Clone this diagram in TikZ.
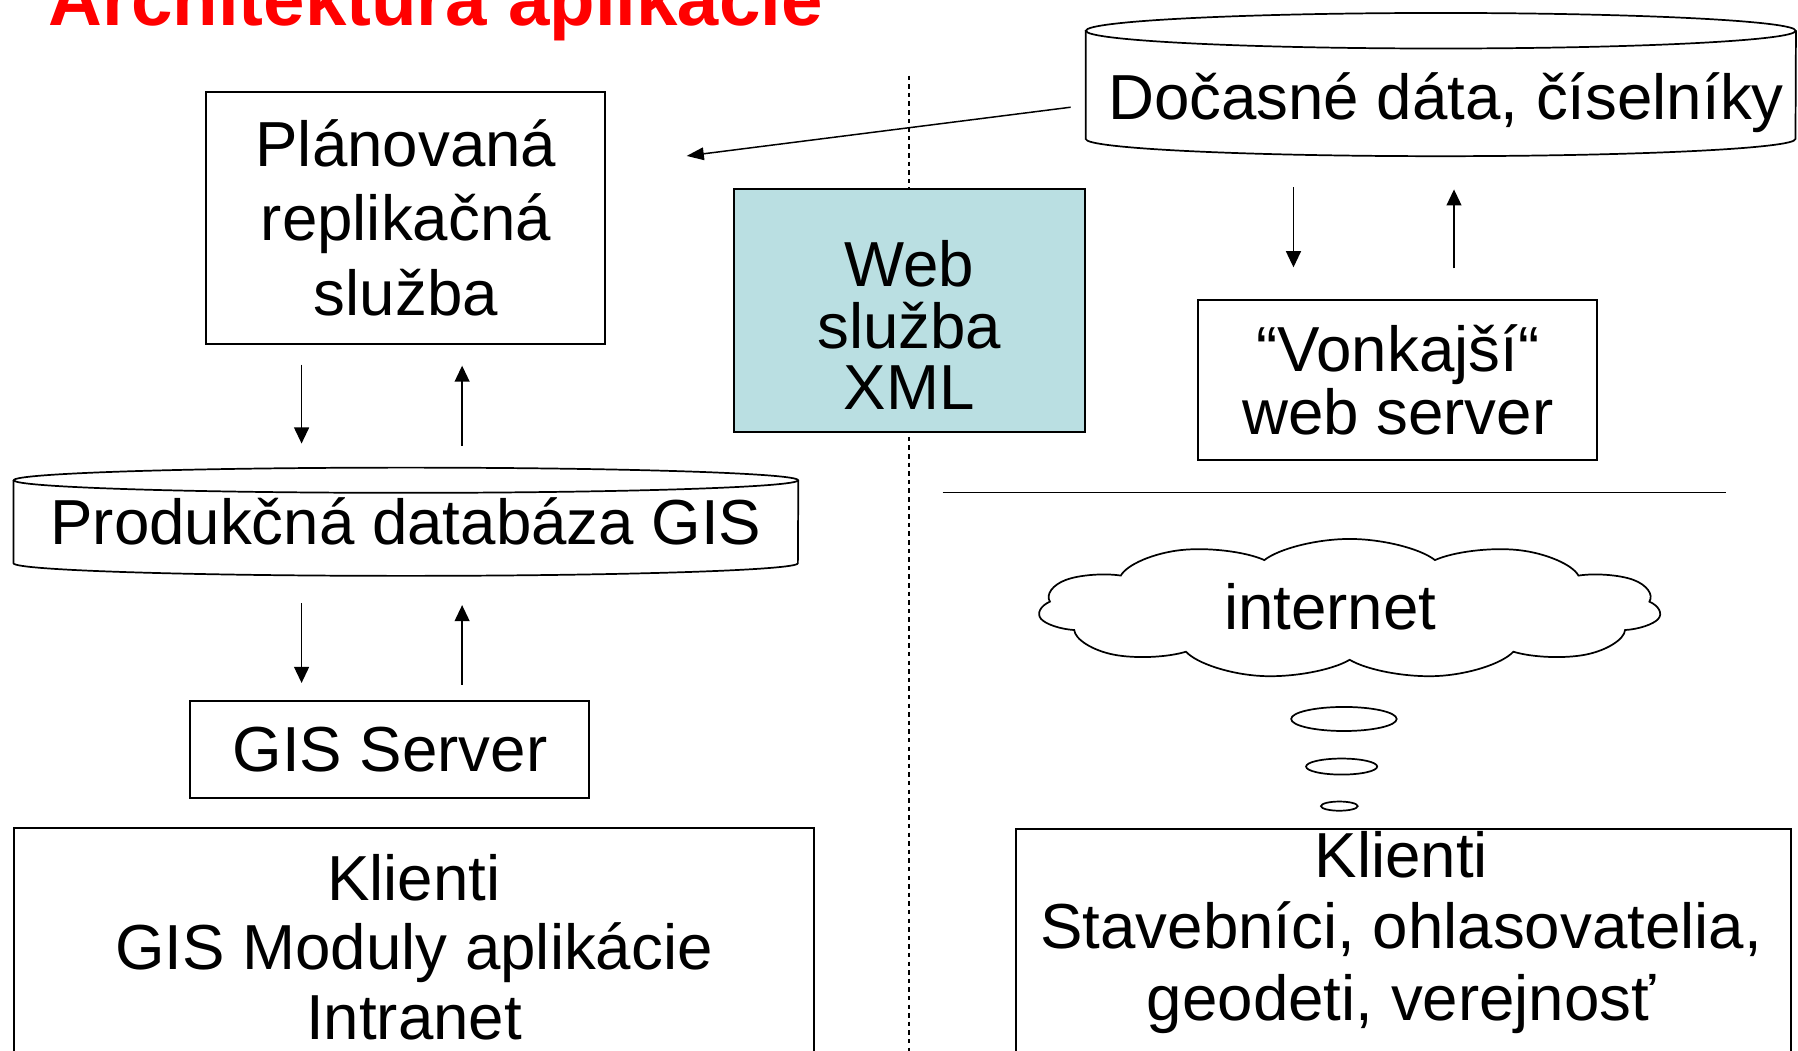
\documentclass[tikz,border=0pt]{standalone}
\usepackage{fontspec}
\setmainfont{Liberation Sans}
\usetikzlibrary{arrows.meta, shapes.geometric, shapes.symbols}
\definecolor{webblue}{RGB}{186,223,226}

\begin{document}
\begin{tikzpicture}[x=1pt, y=-1pt,
    box/.style={draw, line width=1.8pt, inner sep=0pt},
    txt/.style={font=\fontsize{55.5}{65}\selectfont, align=center, inner sep=0pt},
    db/.style={line width=1.5pt},
    flow/.style={-{Triangle[length=14pt, width=13pt]}, line width=1.3pt},
    bubble/.style={draw, ellipse, line width=1.5pt, inner sep=0pt}]
  \useasboundingbox (0,0) rectangle (1568,916);

  \node[anchor=base west, inner sep=0pt, text=red,
        font=\bfseries\fontsize{65}{70}\selectfont] (title) at (42,22.5) {Architektúra aplikácie};

  % divider
  \coordinate (divtop) at (793,66);
  \coordinate (divbot) at (793,920);
  \draw[line width=1.5pt, dash pattern=on 4pt off 3.5pt] (divtop) -- (divbot);

  % left side
  \node[box, txt, minimum width=348pt, minimum height=220pt] (plan) at (354,190) {Plánovaná\\replikačná\\služba};
  \node[txt, minimum width=684pt, minimum height=72pt] (proddb) at (354,455) {Produkčná databáza GIS};
  \draw[db] (proddb.north) ellipse [x radius=342pt, y radius=11pt];
  \draw[db] (proddb.north west) -- (proddb.south west)
    arc[start angle=180, end angle=360, x radius=342pt, y radius=11pt] -- (proddb.north east);
  \node[box, txt, minimum width=348pt, minimum height=85pt] (gis) at (340,653.5) {GIS Server};
  \node[box, txt, font=\fontsize{55.5}{60.5}\selectfont, minimum width=698pt, minimum height=208pt] (clientsL) at (361,826)
    {Klienti\\GIS Moduly aplikácie\\Intranet};

  \draw[flow, shorten <=17pt, shorten >=32pt] ([xshift=-91pt]plan.south) -- ([xshift=-91pt]proddb.north);
  \draw[flow, shorten <=30pt, shorten >=18pt] ([xshift=49pt]proddb.north) -- ([xshift=49pt]plan.south);
  \draw[flow, shorten <=35pt, shorten >=14.5pt] ([xshift=-91pt]proddb.south) -- ([xshift=-91pt]proddb.south |- gis.north);
  \draw[flow, shorten <=13pt, shorten >=36.5pt] ([xshift=49pt]proddb.south |- gis.north) -- ([xshift=49pt]proddb.south);

  % web service
  \node[box, fill=webblue, minimum width=306pt, minimum height=212pt] (web) at (793,271) {};
  \node[txt, font=\fontsize{55.5}{53.5}\selectfont] (webtxt) at (793,283.5) {Web\\služba\\XML};

  % right side
  \node[minimum width=619pt, minimum height=94pt, inner sep=0pt] (tmpdb) at (1256.5,74) {};
  \draw[db] (tmpdb.north) ellipse [x radius=309.5pt, y radius=15.5pt];
  \draw[db] (tmpdb.north west) -- (tmpdb.south west)
    arc[start angle=180, end angle=360, x radius=309.5pt, y radius=15pt] -- (tmpdb.north east);
  \node[txt] (tmptxt) at (1261,89.5) {Dočasné dáta, číselníky};

  \node[box, txt, font=\fontsize{55.5}{55}\selectfont, minimum width=348pt, minimum height=139pt] (outer) at (1219,331.5)
    {“Vonkajší“\\web server};

  \draw[flow, shorten <=42pt, shorten >=28pt] ([xshift=-128.5pt]tmpdb.south) -- ([xshift=-128.5pt]tmpdb.south |- outer.north);
  \draw[flow, shorten <=27pt, shorten >=44pt] ([xshift=11.5pt]tmpdb.south |- outer.north) -- ([xshift=11.5pt]tmpdb.south);

  \coordinate (tmpout) at (933.7,93.5);
  \coordinate (planin) at (598.8,136);
  \draw[-{Triangle[length=15pt, width=11pt]}, line width=1.3pt] (tmpout) -- (planin);

  \coordinate (lineL) at (822,429.5);
  \coordinate (lineR) at (1505,429.5);
  \draw[line width=1.4pt] (lineL) -- (lineR);

  \node[cloud, draw, line width=1.5pt, cloud puffs=11, cloud puff arc=125, cloud ignores aspect,
        minimum width=222pt, minimum height=122pt, inner sep=0pt, xscale=2.45, transform shape] (net) at (1177,531) {};
  \node[txt] (nettxt) at (1160,529) {internet};

  \node[bubble, minimum width=92pt, minimum height=21pt] (bub1) at (1172,627) {};
  \node[bubble, minimum width=62pt, minimum height=14pt] (bub2) at (1170,668.5) {};
  \node[bubble, minimum width=32pt, minimum height=8pt] (bub3) at (1168,703) {};

  \node[box, minimum width=676pt, minimum height=230pt, anchor=north west] (clientsR) at (885,722) {};
  \node[txt, font=\fontsize{55.5}{62.5}\selectfont] (clientsRtxt) at (1222,813)
    {Klienti\\Stavebníci, ohlasovatelia,\\geodeti, verejnosť};
\end{tikzpicture}
\end{document}
